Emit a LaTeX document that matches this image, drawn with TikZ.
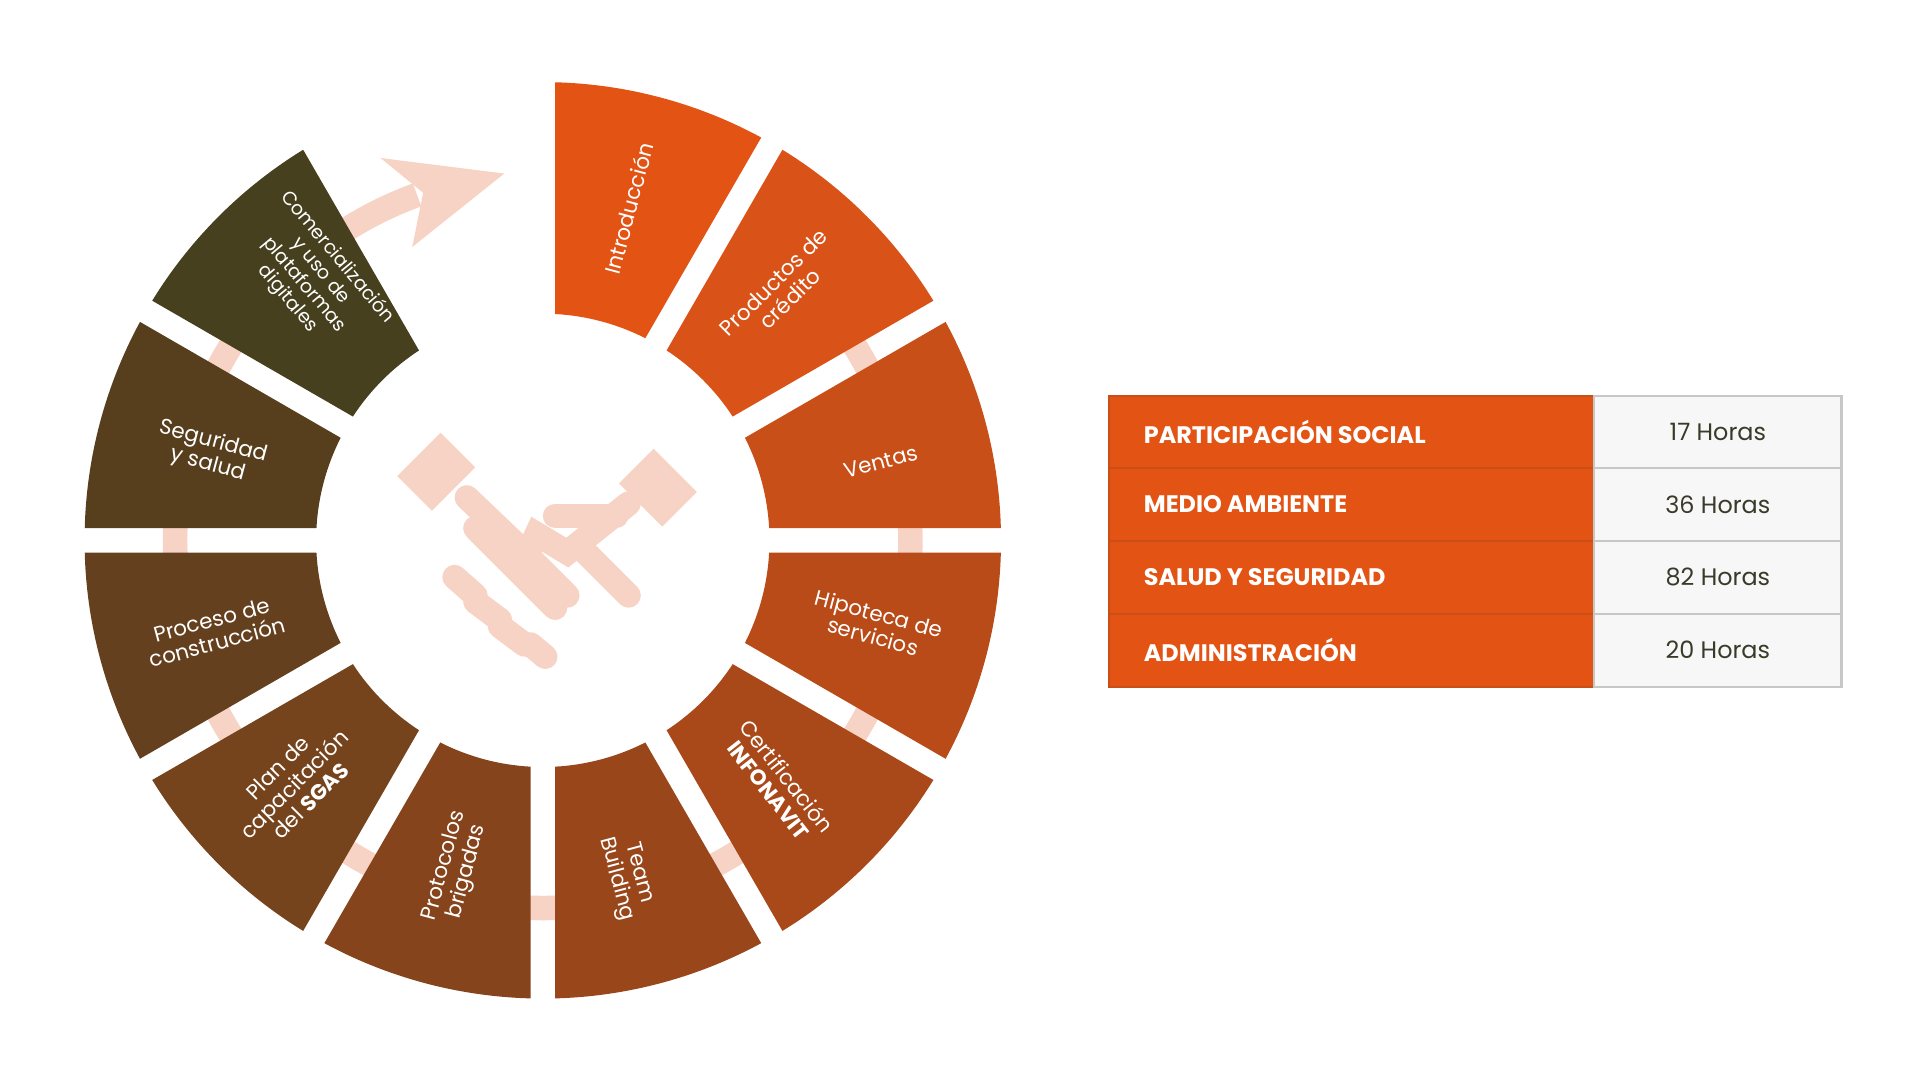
\documentclass[tikz,border=0pt]{standalone}
\usepackage{fontspec}
\setmainfont{Poppins}
\definecolor{s1}{HTML}{E35414}
\definecolor{s2}{HTML}{D95318}
\definecolor{s3}{HTML}{C84F17}
\definecolor{s4}{HTML}{B94B18}
\definecolor{s5}{HTML}{A94818}
\definecolor{s6}{HTML}{98461A}
\definecolor{s7}{HTML}{85441B}
\definecolor{s8}{HTML}{75431C}
\definecolor{s9}{HTML}{65401E}
\definecolor{s10}{HTML}{573F1E}
\definecolor{s11}{HTML}{46401E}
\definecolor{peach}{HTML}{F7D3C5}
\definecolor{cellg}{HTML}{F7F7F7}
\definecolor{txt}{HTML}{3A3A2A}
\tikzset{
 lab/.style={text=white,font=\fontsize{17.5}{19}\selectfont,align=center,inner sep=0},
 lcell/.style={fill=s1,draw=s3,line width=2,minimum width=397,minimum height=59.5,anchor=north west,inner sep=0},
 rcell/.style={fill=cellg,draw=black!22,line width=2,minimum width=202,minimum height=59.5,anchor=north west,inner sep=0},
 ltext/.style={text=white,font=\fontsize{19.5}{22}\selectfont\bfseries,anchor=west},
 rtext/.style={text=txt,font=\fontsize{19.5}{22}\selectfont},
 hand/.style={peach,line width=20,line cap=round}
}
\begin{document}
\begin{tikzpicture}[x=1pt,y=1pt]
\useasboundingbox (0,-4) rectangle (1567,877);
\begin{scope}[shift={(443,436)}]
 \draw[peach,line width=20] (110:300) arc[start angle=110,end angle=405,radius=300];
 \fill[peach] (96:301) -- (114:262) -- (109:300) -- (113:339) -- cycle;
 \foreach \a/\c in {60/s1,30/s2,0/s3,-30/s4,-60/s5,-90/s6,-120/s7,-150/s8,-180/s9,150/s10,120/s11}{
  \fill[\c] (\a+3.1:185) -- (\a+1.53:374) arc[start angle=\a+1.53,end angle=\a+28.47,radius=374]
   -- (\a+26.9:185) arc[start angle=\a+26.9,end angle=\a+3.1,radius=185] -- cycle;
 }
 % handshake
 \fill[peach,rotate around={45:(-87,56)}] (-112,36) rectangle (-62,76);
 \fill[peach,rotate around={-45:(94,43)}] (69,23) rectangle (119,63);
 \draw[hand] (-62,35) -- (-20,-5) -- (20,-45);
 \draw[hand] (-55,10) -- (10,-55);
 \draw[hand] (-72,-30) -- (-55,-45);
 \draw[hand] (-55,-50) -- (-35,-65);
 \draw[hand] (-35,-70) -- (-15,-85);
 \draw[hand] (-10,-85) -- (2,-95);
 \draw[hand] (70,30) -- (20,-10) -- (-5,5) -- (-12,-10);
 \draw[hand] (30,-5) -- (70,-45);
 \draw[hand] (60,20) -- (10,20);
\end{scope}
\node[lab,rotate=75] (n1) at (513,707) {Introducción};
\node[lab,rotate=45] (n2) at (638,640) {Productos de\\crédito};
\node[lab,rotate=15] (n3) at (719,500) {Ventas};
\node[lab,rotate=-15] (n4) at (715,367) {Hipoteca de\\servicios};
\node[lab,rotate=-52] (n5) at (635,238) {Certificación\\\textbf{INFONAVIT}};
\node[lab,rotate=-75] (n6) at (512,162) {Team\\Building};
\node[lab,rotate=75] (n7) at (372,168) {Protocolos\\brigadas};
\node[lab,rotate=45] (n8) at (240,237) {Plan de\\capacitación\\del \textbf{SGAS}};
\node[lab,rotate=15] (n9) at (175,362) {Proceso de\\construcción};
\node[lab,rotate=-15] (n10) at (172,507) {Seguridad\\y salud};
\node[lab,rotate=-50,font=\fontsize{15.5}{17.5}\selectfont] (n11) at (255,650) {Comercialización\\y uso de\\plataformas\\digitales};
% table
\foreach \y/\l/\r [count=\i] in {555/PARTICIPACIÓN SOCIAL/17 Horas,496/MEDIO AMBIENTE/36 Horas,436.5/SALUD Y SEGURIDAD/82 Horas,377/ADMINISTRACIÓN/20 Horas}{
 \node[lcell] (L\i) at (904,\y) {};
 \node[rcell] (R\i) at (1300,\y) {};
 \node[ltext] (LT\i) at ([xshift=26]L\i.west) {\l};
 \node[rtext] (RT\i) at (R\i.center) {\r};
}
\end{tikzpicture}
\end{document}
